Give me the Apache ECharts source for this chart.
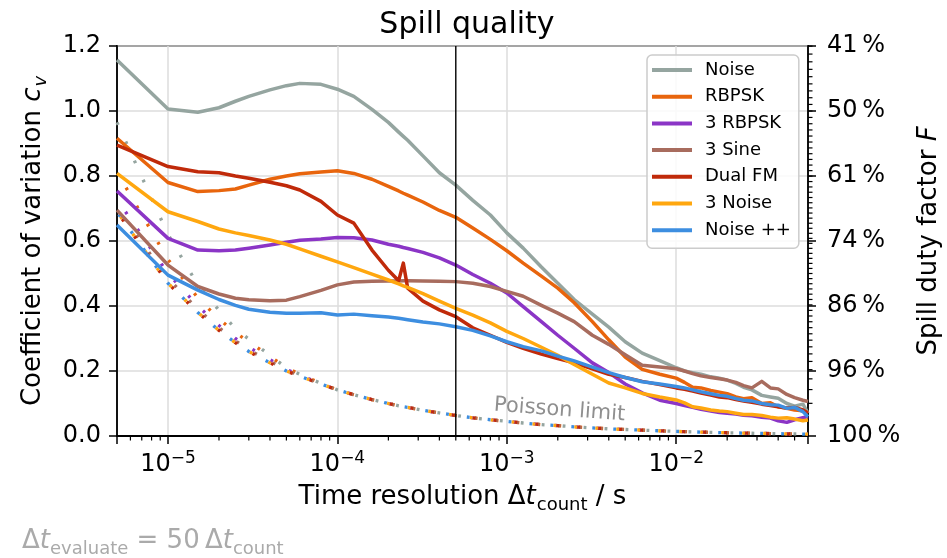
<!DOCTYPE html>
<html>
<head>
<meta charset="utf-8">
<script src="https://cdn.jsdelivr.net/npm/echarts@6.0.0/dist/echarts.min.js"></script>
<style>
  html, body { margin: 0; padding: 0; background: #fff; }
  #chart { width: 947px; height: 558px; }
</style>
</head>
<body>
<div id="chart"></div>
<script>
// Counting time resolution Δt_count in seconds
const timeResolution = [5e-6, 1e-5, 1.5e-5, 2e-5, 2.5e-5, 3e-5, 4e-5, 5e-5, 6e-5, 8e-5,
  1e-4, 1.25e-4, 1.6e-4, 2e-4, 2.3e-4, 2.45e-4, 2.6e-4, 3.2e-4, 4e-4, 5e-4,
  6.3e-4, 8e-4, 1e-3, 1.25e-3, 1.6e-3, 2e-3, 2.5e-3, 3.2e-3, 4e-3, 5e-3,
  6.3e-3, 8e-3, 1e-2, 1.12e-2, 1.25e-2, 1.4e-2, 1.6e-2, 1.8e-2, 2e-2, 2.25e-2,
  2.5e-2, 2.8e-2, 3.2e-2, 3.6e-2, 4e-2, 4.5e-2, 5e-2, 5.6e-2, 6e-2];

// Coefficient of variation c_v per excitation method
const cvNoise = [1.157, 1.006, 0.996, 1.01, 1.03, 1.045, 1.065, 1.078, 1.085, 1.082,
  1.067, 1.045, 1.005, 0.965, 0.935, 0.922, 0.91, 0.862, 0.81, 0.772,
  0.725, 0.68, 0.625, 0.578, 0.52, 0.47, 0.42, 0.375, 0.335, 0.29,
  0.255, 0.232, 0.21, 0.2, 0.195, 0.19, 0.182, 0.178, 0.172, 0.162,
  0.15, 0.142, 0.125, 0.12, 0.116, 0.1, 0.092, 0.098, 0.07];
const cvRbpsk = [0.916, 0.78, 0.752, 0.755, 0.76, 0.772, 0.79, 0.8, 0.807, 0.812,
  0.816, 0.808, 0.79, 0.768, 0.754, 0.747, 0.741, 0.72, 0.694, 0.673,
  0.64, 0.605, 0.57, 0.532, 0.492, 0.455, 0.41, 0.352, 0.296, 0.243,
  0.205, 0.19, 0.178, 0.165, 0.15, 0.148, 0.14, 0.135, 0.13, 0.12,
  0.115, 0.118, 0.1, 0.102, 0.09, 0.085, 0.08, 0.078, 0.072];
const cvRbpsk3 = [0.754, 0.608, 0.572, 0.57, 0.572, 0.578, 0.588, 0.596, 0.602, 0.606,
  0.611, 0.61, 0.603, 0.59, 0.584, 0.58, 0.577, 0.565, 0.548, 0.526,
  0.497, 0.47, 0.44, 0.398, 0.352, 0.31, 0.27, 0.225, 0.195, 0.16,
  0.133, 0.11, 0.1, 0.094, 0.088, 0.082, 0.077, 0.072, 0.07, 0.068,
  0.064, 0.062, 0.058, 0.055, 0.047, 0.042, 0.05, 0.056, 0.06];
const cvSine3 = [0.695, 0.526, 0.46, 0.437, 0.424, 0.419, 0.416, 0.418, 0.429, 0.448,
  0.465, 0.474, 0.476, 0.477, 0.477, 0.478, 0.478, 0.477, 0.476, 0.475,
  0.47, 0.46, 0.445, 0.43, 0.402, 0.378, 0.352, 0.31, 0.282, 0.25,
  0.218, 0.212, 0.207, 0.2, 0.192, 0.185, 0.18, 0.176, 0.172, 0.165,
  0.155, 0.148, 0.168, 0.148, 0.145, 0.128, 0.118, 0.11, 0.106];
const cvDualFm = [0.895, 0.829, 0.813, 0.81, 0.8, 0.793, 0.781, 0.77, 0.757, 0.722,
  0.68, 0.655, 0.572, 0.51, 0.478, 0.532, 0.455, 0.415, 0.388, 0.367,
  0.333, 0.31, 0.288, 0.27, 0.252, 0.238, 0.225, 0.207, 0.19, 0.18,
  0.168, 0.158, 0.148, 0.144, 0.138, 0.132, 0.126, 0.12, 0.118, 0.112,
  0.108, 0.104, 0.098, 0.094, 0.09, 0.086, 0.088, 0.08, 0.07];
const cvNoise3 = [0.808, 0.69, 0.66, 0.637, 0.625, 0.617, 0.603, 0.59, 0.576, 0.553,
  0.536, 0.518, 0.498, 0.48, 0.468, 0.462, 0.457, 0.438, 0.415, 0.393,
  0.372, 0.348, 0.322, 0.3, 0.273, 0.248, 0.22, 0.19, 0.163, 0.148,
  0.131, 0.12, 0.111, 0.102, 0.09, 0.086, 0.08, 0.077, 0.075, 0.07,
  0.066, 0.066, 0.063, 0.058, 0.055, 0.056, 0.052, 0.047, 0.049];
const cvNoisePlus = [0.649, 0.495, 0.449, 0.42, 0.402, 0.39, 0.381, 0.378, 0.378, 0.379,
  0.372, 0.375, 0.37, 0.366, 0.362, 0.36, 0.358, 0.351, 0.345, 0.336,
  0.325, 0.308, 0.29, 0.275, 0.262, 0.246, 0.231, 0.212, 0.195, 0.18,
  0.167, 0.16, 0.152, 0.148, 0.142, 0.136, 0.13, 0.125, 0.122, 0.115,
  0.11, 0.108, 0.1, 0.096, 0.095, 0.085, 0.088, 0.075, 0.059];

// Poisson limit of c_v (common tail, per-method deviations at short Δt)
const poissonBase = [0.69, 0.47, 0.38, 0.325, 0.287, 0.26, 0.225, 0.2, 0.184, 0.16,
  0.142, 0.127, 0.112, 0.1, 0.093, 0.09, 0.088, 0.079, 0.071, 0.063,
  0.056, 0.05, 0.045, 0.04, 0.035, 0.032, 0.028, 0.025, 0.022, 0.02,
  0.018, 0.016, 0.014, 0.0134, 0.0127, 0.012, 0.0112, 0.0105, 0.01, 0.0094,
  0.009, 0.0085, 0.0079, 0.0075, 0.0071, 0.0067, 0.0063, 0.006, 0.0058];
const poissonHeadNoise = [0.965, 0.62, 0.465, 0.387, 0.33, 0.298, 0.248, 0.21, 0.19, 0.162];
const poissonHeadRbpsk = [0.812, 0.543, 0.425, 0.36, 0.318, 0.29, 0.245, 0.21, 0.19, 0.162];
const poissonHeadRbpsk3 = [0.728, 0.5, 0.4, 0.34, 0.3, 0.273, 0.235, 0.205, 0.187, 0.161];
const poissonHeadSine3 = [0.70, 0.485, 0.39, 0.333, 0.293, 0.265, 0.23, 0.203];

// Evaluation window marker and Poisson label anchor
const evalWindow = 5e-4;
const poissonLabelAt = [2.05e-3, 0.08];

const FONT = 'DejaVu Sans';
const X_MIN = 5e-6, X_MAX = 6e-2;
const Y_MIN = 0, Y_MAX = 1.2;

function withHead(head) {
  return head.concat(poissonBase.slice(head.length));
}

const methods = [
  { name: 'Noise',    color: '#95a5a0', cv: cvNoise,     poisson: withHead(poissonHeadNoise) },
  { name: 'RBPSK',    color: '#e8650d', cv: cvRbpsk,     poisson: withHead(poissonHeadRbpsk) },
  { name: '3 RBPSK',  color: '#8b35c6', cv: cvRbpsk3,    poisson: withHead(poissonHeadRbpsk3) },
  { name: '3 Sine',   color: '#a86c5e', cv: cvSine3,     poisson: withHead(poissonHeadSine3) },
  { name: 'Dual FM',  color: '#c02a0a', cv: cvDualFm,    poisson: poissonBase.slice() },
  { name: '3 Noise',  color: '#ffa70f', cv: cvNoise3,    poisson: poissonBase.slice() },
  { name: 'Noise ++', color: '#3d8ee0', cv: cvNoisePlus, poisson: poissonBase.slice() }
];

// minor ticks of the log time axis (2..9 per decade)
const xMinorTicks = [];
for (let d = -6; d <= -2; d++) {
  for (let k = 2; k <= 9; k++) {
    const t = k * Math.pow(10, d);
    if (t > X_MIN * 1.0001 && t < X_MAX * 0.9999) xMinorTicks.push([t, 0]);
  }
}
// minor ticks of the duty factor axis, one per percent: F = 1 / (1 + cv^2)
const dutyMinorTicks = [];
for (let f = 41; f <= 99; f++) {
  dutyMinorTicks.push([X_MAX, Math.sqrt(100 / f - 1)]);
}

const series = [];
methods.forEach((m, i) => {
  series.push({
    name: m.name + ' Poisson',
    type: 'line',
    data: timeResolution.map((t, j) => [t, m.poisson[j]]),
    showSymbol: false,
    symbol: 'none',
    z: 2,
    lineStyle: { color: m.color, width: 3.3, type: [2.8, 18.2], dashOffset: i * 3 },
    silent: true
  });
});
methods.forEach((m) => {
  series.push({
    name: m.name,
    type: 'line',
    data: timeResolution.map((t, j) => [t, m.cv[j]]),
    showSymbol: false,
    symbol: 'none',
    z: 3,
    itemStyle: { color: m.color },
    lineStyle: { color: m.color, width: 3.5, join: 'round' },
    silent: true
  });
});
// vertical marker at the evaluation window, spanning the full value range
series.push({
  name: 'evalWindow',
  type: 'custom',
  silent: true,
  clip: true,
  z: 4,
  data: [[evalWindow, Y_MIN, Y_MAX]],
  renderItem: function (params, api) {
    const a = api.coord([api.value(0), api.value(1)]);
    const b = api.coord([api.value(0), api.value(2)]);
    return { type: 'line', shape: { x1: a[0], y1: a[1], x2: b[0], y2: b[1] },
             style: { stroke: '#000', lineWidth: 1.4 } };
  }
});
// minor ticks on the time axis
series.push({
  name: 'xminor',
  type: 'custom',
  xAxisIndex: 0, yAxisIndex: 0,
  clip: false,
  silent: true,
  z: 10,
  data: xMinorTicks,
  renderItem: function (params, api) {
    const p = api.coord([api.value(0), api.value(1)]);
    return { type: 'line', shape: { x1: p[0], y1: p[1], x2: p[0], y2: p[1] + 4.5 },
             style: { stroke: '#000', lineWidth: 1.2 } };
  }
});
// minor ticks on the duty factor axis
series.push({
  name: 'yminor',
  type: 'custom',
  xAxisIndex: 0, yAxisIndex: 1,
  clip: false,
  silent: true,
  z: 10,
  data: dutyMinorTicks,
  renderItem: function (params, api) {
    const p = api.coord([api.value(0), api.value(1)]);
    return { type: 'line', shape: { x1: p[0], y1: p[1], x2: p[0] + 4.5, y2: p[1] },
             style: { stroke: '#000', lineWidth: 1.2 } };
  }
});
// Poisson limit annotation
series.push({
  name: 'poissonLabel',
  type: 'custom',
  silent: true,
  z: 5,
  data: [poissonLabelAt],
  renderItem: function (params, api) {
    const p = api.coord([api.value(0), api.value(1)]);
    return { type: 'text', x: p[0], y: p[1], rotation: -0.074,
             style: { text: 'Poisson limit', fill: '#8f8f8f', fontSize: 21, fontFamily: FONT,
                      align: 'center', verticalAlign: 'middle' } };
  }
});

function powLabel(v) {
  const e = Math.log10(v);
  const r = Math.round(e);
  if (Math.abs(e - r) > 1e-6 || r < -5 || r > -2) return '';
  return '{b|10}{e|\u2212' + Math.abs(r) + '}';
}

const chart = echarts.init(document.getElementById('chart'), null, { renderer: 'canvas' });
chart.setOption({
  animation: false,
  backgroundColor: '#fff',
  textStyle: { fontFamily: FONT },
  title: {
    text: 'Spill quality',
    left: 462, top: 5,
    textAlign: 'center',
    textStyle: { fontSize: 30, fontWeight: 'normal', fontFamily: FONT, color: '#000' }
  },
  grid: {
    left: 117, right: 139, top: 46, bottom: 122,
    show: true, borderColor: '#000', borderWidth: 1.8, backgroundColor: '#fff',
    outerBoundsMode: 'none'
  },
  legend: {
    data: methods.map(m => m.name),
    orient: 'vertical',
    left: 647, top: 55,
    icon: 'rect',
    itemWidth: 40, itemHeight: 4,
    itemGap: 6.7,
    padding: [5, 8, 8, 5],
    backgroundColor: 'rgba(255,255,255,0.85)',
    borderColor: '#cccccc', borderWidth: 1.5, borderRadius: 5,
    selectedMode: false,
    textStyle: { fontSize: 18, fontFamily: FONT, color: '#000', lineHeight: 20, padding: [0, 0, 0, 8] }
  },
  xAxis: {
    type: 'log', logBase: 10,
    min: X_MIN, max: X_MAX,
    name: '{n|Time resolution \u0394}{i|t}{s|count}{n| / s}',
    nameLocation: 'middle', nameGap: 44,
    nameTextStyle: {
      color: '#000', fontFamily: FONT, fontSize: 26,
      rich: {
        n: { fontSize: 26, lineHeight: 34, fontFamily: FONT, color: '#000' },
        i: { fontSize: 26, lineHeight: 34, fontFamily: FONT, fontStyle: 'italic', color: '#000' },
        s: { fontSize: 18, lineHeight: 18, fontFamily: FONT, verticalAlign: 'bottom', color: '#000', padding: [0, 0, 0, 1] }
      }
    },
    axisLine: { show: true, lineStyle: { color: '#000', width: 1.8 } },
    axisTick: { show: true, inside: false, length: 8, lineStyle: { color: '#000', width: 1.5 } },
    minorTick: { show: false },
    splitLine: { show: true, lineStyle: { color: '#dcdcdc', width: 1.5 } },
    axisLabel: {
      margin: 14, color: '#000', fontFamily: FONT,
      formatter: powLabel,
      rich: {
        b: { fontSize: 24, lineHeight: 30, fontFamily: FONT, color: '#000' },
        e: { fontSize: 17, lineHeight: 17, fontFamily: FONT, color: '#000', verticalAlign: 'top' }
      }
    }
  },
  yAxis: [{
    type: 'value', min: Y_MIN, max: Y_MAX, interval: 0.2,
    name: '{n|Coefficient of variation }{i|c}{s|v}',
    nameLocation: 'middle', nameGap: 67, nameRotate: 90,
    nameTextStyle: {
      color: '#000', fontFamily: FONT, fontSize: 26,
      rich: {
        n: { fontSize: 26, lineHeight: 34, fontFamily: FONT, color: '#000' },
        i: { fontSize: 26, lineHeight: 34, fontFamily: FONT, fontStyle: 'italic', color: '#000' },
        s: { fontSize: 18, lineHeight: 18, fontFamily: FONT, fontStyle: 'italic', verticalAlign: 'bottom', color: '#000', padding: [0, 0, 0, 1] }
      }
    },
    axisLine: { show: true, lineStyle: { color: '#000', width: 1.8 } },
    axisTick: { show: true, inside: false, length: 8, lineStyle: { color: '#000', width: 1.5 } },
    splitLine: { show: true, lineStyle: { color: '#dcdcdc', width: 1.5 } },
    axisLabel: { margin: 16, fontSize: 24, color: '#000', fontFamily: FONT,
                 formatter: v => v.toFixed(1) }
  }, {
    type: 'value', min: Y_MIN, max: Y_MAX, interval: 0.2, position: 'right',
    name: '{n|Spill duty factor }{i|F}',
    nameLocation: 'middle', nameGap: 104, nameRotate: 90,
    nameTextStyle: {
      color: '#000', fontFamily: FONT, fontSize: 26,
      rich: {
        n: { fontSize: 26, lineHeight: 34, fontFamily: FONT, color: '#000' },
        i: { fontSize: 26, lineHeight: 34, fontFamily: FONT, fontStyle: 'italic', color: '#000' }
      }
    },
    axisLine: { show: true, lineStyle: { color: '#000', width: 1.8 } },
    axisTick: { show: true, inside: false, length: 8, lineStyle: { color: '#000', width: 1.5 } },
    splitLine: { show: false },
    axisLabel: { margin: 19, fontSize: 24, color: '#000', fontFamily: FONT,
                 formatter: v => Math.round(100 / (1 + v * v)) + '\u2009%' }
  }],
  graphic: [{
    type: 'text',
    left: 22, top: 528,
    silent: true,
    style: {
      text: '{d|\u0394}{t|t}{s|evaluate}{d| = 50\u2009\u0394}{t|t}{s|count}',
      fill: '#aaaaaa',
      rich: {
        d: { fontSize: 26, lineHeight: 34, fontFamily: FONT, fill: '#aaaaaa' },
        t: { fontSize: 26, lineHeight: 34, fontFamily: FONT, fontStyle: 'italic', fill: '#aaaaaa' },
        s: { fontSize: 18, lineHeight: 18, fontFamily: FONT, verticalAlign: 'bottom', fill: '#aaaaaa' }
      }
    }
  }],
  series: series
});
</script>
</body>
</html>
